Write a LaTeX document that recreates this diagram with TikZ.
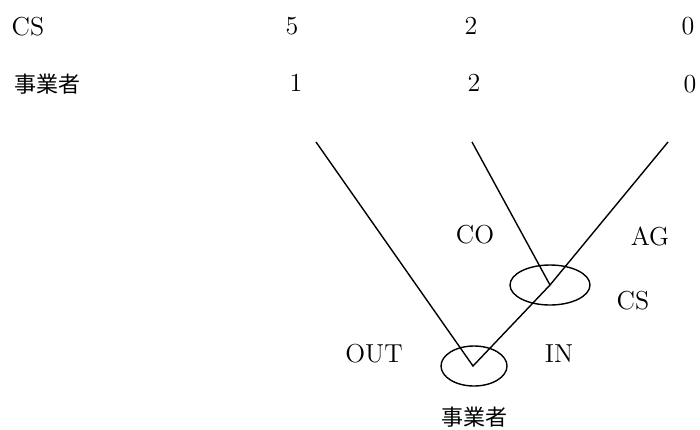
\documentclass[tikz,border=0pt]{standalone}
\usepackage{fontspec}
\newfontfamily\cjk{Noto Sans CJK JP}
\usetikzlibrary{shapes.geometric}
\begin{document}
\begin{tikzpicture}[x=0.5pt,y=-0.5pt,
  txt/.style={font=\fontsize{13}{15}\selectfont, inner sep=0},
  jp/.style={font=\fontsize{11}{13}\selectfont\cjk, inner sep=0},
  infoset/.style={draw, ellipse, inner sep=0, line width=0.7pt},
  edgeline/.style={line width=0.7pt}]
\useasboundingbox (0,0) rectangle (700,429);
% payoff table
\node[txt] (lcs) at (28,27) {CS};
\node[jp] (lbz) at (47,84) {事業者};
\node[txt] (p1a) at (292,26) {5};
\node[txt] (p2a) at (471,26) {2};
\node[txt] (p3a) at (688,26) {0};
\node[txt] (p1b) at (296,83) {1};
\node[txt] (p2b) at (474,83) {2};
\node[txt] (p3b) at (690,84) {0};
% tree
\coordinate (root) at (473,366);
\coordinate (cs) at (550,285);
\coordinate (t1) at (316,142);
\coordinate (t2) at (472,142);
\coordinate (t3) at (668,142);
\node[infoset, minimum width=33pt, minimum height=20pt] (e1) at (474,366) {};
\node[infoset, minimum width=40pt, minimum height=20pt] (e2) at (550,285) {};
\draw[edgeline] (t1) -- (root) -- (cs) -- (t3);
\draw[edgeline] (cs) -- (t2);
% labels
\node[txt] (lco) at (475,235) {CO};
\node[txt] (lag) at (650,236) {AG};
\node[txt] (lcs2) at (633,301) {CS};
\node[txt] (lout) at (374,354) {OUT};
\node[txt] (lin) at (559,354) {IN};
\node[jp] (lroot) at (474,417) {事業者};
\end{tikzpicture}
\end{document}
